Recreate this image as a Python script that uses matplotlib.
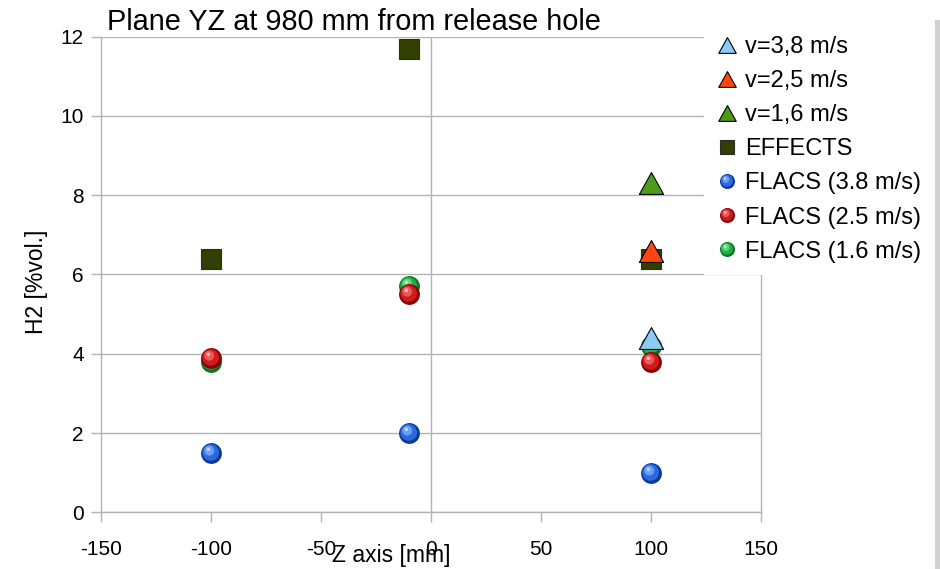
import matplotlib
matplotlib.use("Agg")
import matplotlib.pyplot as plt
import numpy as np
from matplotlib.path import Path
from matplotlib.patches import Rectangle
from matplotlib.legend_handler import HandlerTuple

plt.rcParams['font.family'] = ['Liberation Sans', 'DejaVu Sans']
plt.rcParams['axes.unicode_minus'] = False

# ---------------- data ----------------
z_positions = [-100, -10, 100]
effects = [6.4, 11.7, 6.4]
flacs_38 = [1.5, 2.0, 1.0]
flacs_25 = [3.9, 5.5, 3.8]
flacs_16 = [3.8, 5.7, 4.2]
exp_z = [100]
exp_38 = [4.4]
exp_25 = [6.6]
exp_16 = [8.3]
x_ticks = [-150, -100, -50, 0, 50, 100, 150]
y_ticks = [0, 2, 4, 6, 8, 10, 12]

title = "Plane YZ at 980 mm from release hole"
xlabel = "Z axis [mm]"
ylabel = "H2 [%vol.]"

W, H = 940, 569
fig = plt.figure(figsize=(W / 100, H / 100), dpi=100)
ax = fig.add_axes([101.3 / W, 1 - 512.3 / H, 660 / W, (512.3 - 36.7) / H])

grid_c = '#b3b3b3'
ax.set_xlim(-150, 150)
ax.set_ylim(0, 12)
ax.set_xticks(x_ticks)
ax.set_yticks(y_ticks)
ax.yaxis.grid(True, color=grid_c, lw=1.0)
ax.set_axisbelow(True)
ax.axvline(0, color=grid_c, lw=1.0, zorder=0.5)
for s in ['left', 'bottom', 'right']:
    ax.spines[s].set_color(grid_c)
    ax.spines[s].set_linewidth(1.0)
ax.spines['top'].set_visible(False)
ax.tick_params(axis='both', direction='out', length=7.2, width=1.0,
               color=grid_c, labelsize=15, labelcolor='black')
ax.tick_params(axis='x', pad=12.5)
ax.tick_params(axis='y', pad=5.5)


def offset_circle(cx, cy, r):
    c = Path.circle((cx, cy), r)
    verts = np.vstack([c.vertices, [[-1, -1], [1, 1]]])
    codes = np.concatenate([c.codes, [Path.MOVETO, Path.MOVETO]])
    return Path(verts, codes)


sphere_layers = [offset_circle(0, 0, 1.0),
                 offset_circle(-0.08, 0.1, 0.8),
                 offset_circle(-0.22, 0.28, 0.48),
                 offset_circle(-0.3, 0.4, 0.18)]


def sphere(x, y, colors, z, ms=15):
    arts = []
    for i, (p, c) in enumerate(zip(sphere_layers, colors)):
        ln, = ax.plot(x, y, ls='none', marker=p, ms=ms, mfc=c, mec='none',
                      zorder=z + i * 0.01, clip_on=False)
        arts.append(ln)
    return tuple(arts)


tri = Path([(0, 0.9), (-1, -0.9), (1, -0.9), (0, 0.9)],
           [Path.MOVETO, Path.LINETO, Path.LINETO, Path.CLOSEPOLY])

h_f16 = sphere(z_positions, flacs_16, ['#0c7424', '#1fae47', '#5ed67e', '#b8efc8'], 3)
h_f25 = sphere(z_positions, flacs_25, ['#880000', '#d01c1c', '#ec5858', '#ffb8b8'], 4)
h_f38 = sphere(z_positions, flacs_38, ['#0a3a98', '#2b6ade', '#6a9ef4', '#bcd4ff'], 5)

h_eff, = ax.plot(z_positions, effects, ls='none', marker='s', ms=14, mfc='#333f00',
                 mec='#2a2a2a', mew=0.8, zorder=6, clip_on=False)
h_16, = ax.plot(exp_z, exp_16, ls='none', marker=tri, ms=17.5, mfc='#4e9a1a',
                mec='black', mew=0.8, zorder=7)
h_25, = ax.plot(exp_z, exp_25, ls='none', marker=tri, ms=17.5, mfc='#ff4512',
                mec='black', mew=0.8, zorder=7)
h_38, = ax.plot(exp_z, exp_38, ls='none', marker=tri, ms=17.5, mfc='#8ccaf8',
                mec='black', mew=0.8, zorder=7)

handles = [h_38, h_25, h_16, h_eff, h_f38, h_f25, h_f16]
labels = ["v=3,8 m/s", "v=2,5 m/s", "v=1,6 m/s", "EFFECTS",
          "FLACS (3.8 m/s)", "FLACS (2.5 m/s)", "FLACS (1.6 m/s)"]
leg = fig.legend(handles, labels, loc='upper left',
                 bbox_to_anchor=(704 / W, 1 - 24.5 / H), borderaxespad=0,
                 fontsize=17, frameon=True, facecolor='white', edgecolor='white',
                 framealpha=1.0, fancybox=False, borderpad=0.5, labelspacing=0.51,
                 handlelength=0.95, handletextpad=0.3, numpoints=1, markerscale=0.72,
                 handler_map={tuple: HandlerTuple(ndivide=1, pad=0)})
leg.set_zorder(20)

fig.text(107 / W, 1 - 30 / H, title, fontsize=20.8, va='baseline', ha='left')
fig.text(331.7 / W, 1 - 562 / H, xlabel, fontsize=16.5, va='baseline', ha='left')
fig.text(36 / W, 1 - 282 / H, ylabel, fontsize=16.5, va='center', ha='center',
         rotation=90)

fig.patches.append(Rectangle((935 / W, 0), 5 / W, 1 - 20 / H,
                             transform=fig.transFigure, facecolor='#d0d0d0',
                             edgecolor='none', zorder=30))

fig.savefig('out.png', dpi=100)
